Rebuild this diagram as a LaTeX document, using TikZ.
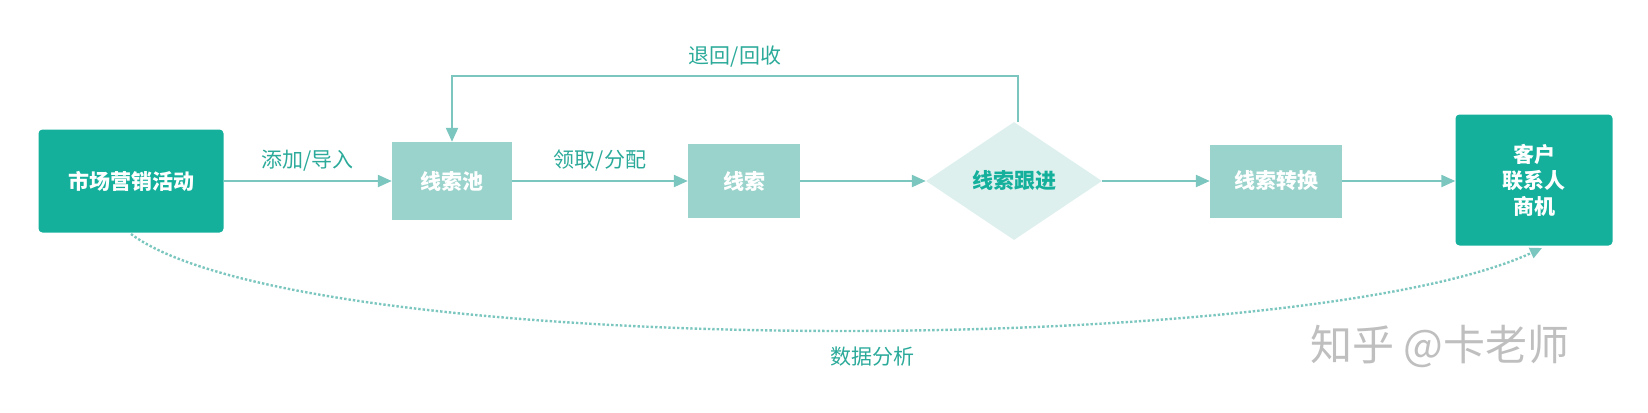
\documentclass[tikz,border=0pt]{standalone}
\usepackage{fontspec}
\setmainfont{Noto Sans CJK SC}
\usetikzlibrary{shapes.geometric,arrows.meta}
\definecolor{dk}{HTML}{14B09C}
\definecolor{lt}{HTML}{9AD3CC}
\definecolor{dl}{HTML}{DDF0EE}
\definecolor{ar}{HTML}{7BC6BF}
\definecolor{tx}{HTML}{2BAA9A}
\begin{document}
\begin{tikzpicture}[x=1pt,y=-1pt,
 dkbox/.style={fill=dk,rounded corners=4pt,text=white,font=\fontsize{21}{26}\selectfont\bfseries,align=center,inner sep=0},
 ltbox/.style={fill=lt,text=white,font=\fontsize{21}{26}\selectfont\bfseries,inner sep=0},
 conn/.style={draw=ar,line width=2.2pt,-{Triangle[length=14pt,width=12pt]}},
 lbl/.style={text=tx,font=\fontsize{21}{26}\selectfont}]
\useasboundingbox (0,0) rectangle (1648,412);
\node[dkbox,minimum width=185pt,minimum height=103pt] (a) at (131,181) {市场营销活动};
\node[ltbox,minimum width=120pt,minimum height=78pt] (b) at (452,181) {线索池};
\node[ltbox,minimum width=112pt,minimum height=74pt] (c) at (744,181) {线索};
\node[diamond,fill=dl,text=dk,minimum width=176pt,minimum height=118pt,aspect=1.5,inner sep=0,font=\fontsize{21}{26}\selectfont\bfseries] (d) at (1014,181) {线索跟进};
\node[ltbox,minimum width=132pt,minimum height=73pt] (e) at (1276,181) {线索转换};
\node[dkbox,minimum width=157pt,minimum height=131pt] (f) at (1534,180) {客户\\联系人\\商机};
\draw[conn] (a.east) -- node[lbl,above=5pt]{添加/导入} (b.west);
\draw[conn] (b.east) -- node[lbl,above=5pt]{领取/分配} (c.west);
\draw[conn] (c.east) -- (d.west);
\draw[conn] (d.east) -- (e.west);
\draw[conn] (e.east) -- (f.west |- e.east);
\coordinate (t1) at (1018,76);
\coordinate (t2) at (452,76);
\draw[conn] (d.north -| t1) -- (t1) -- node[lbl,above=4pt]{退回/回收} (t2) -- (b.north);
\draw[draw=ar,line width=2.4pt,dotted,-{Triangle[length=12pt,width=11pt]}] (131,234) .. controls (300,360) and (1300,360) .. (1542,248);
\node[lbl] (g) at (872,357) {数据分析};
\node[text=black!25,font=\fontsize{42}{46}\selectfont] (w) at (1440,346) {知乎 @卡老师};
\end{tikzpicture}
\end{document}
